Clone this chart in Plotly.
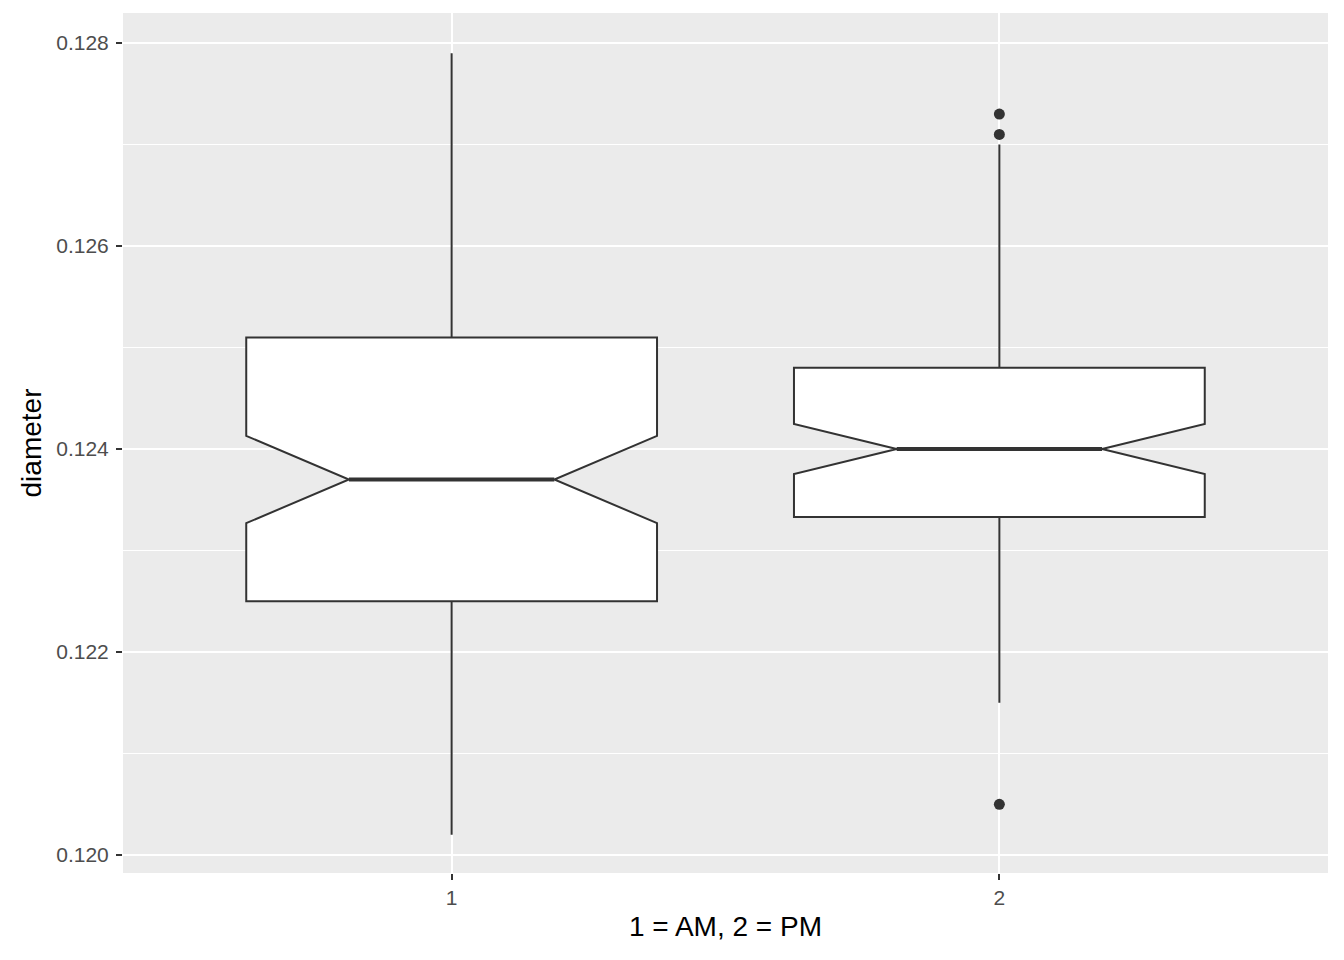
import plotly.graph_objects as go

# summary stats (ggplot notched boxplot)
groups = [1, 2]
tick_labels = ["1", "2"]
q1 = [0.1225, 0.12333]
median = [0.1237, 0.1240]
q3 = [0.1251, 0.1248]
lowerfence = [0.1202, 0.1215]
upperfence = [0.1279, 0.1270]
notchspan = [0.00043, 0.000246]
outlier_x = [2, 2, 2]
outlier_y = [0.1273, 0.1271, 0.1205]

BOX_W = 0.75
NOTCH = 0.25  # plotly: inset on each side, as a fraction of box width
INK = "#333333"

fig = go.Figure()
for i, g in enumerate(groups):
    fig.add_trace(go.Box(
        x=[g],
        q1=[q1[i]], median=[median[i]], q3=[q3[i]],
        lowerfence=[lowerfence[i]], upperfence=[upperfence[i]],
        notchspan=[notchspan[i]],
        notched=True, notchwidth=NOTCH,
        width=BOX_W, whiskerwidth=0,
        fillcolor="white",
        line=dict(color=INK, width=2),
        boxpoints=False,
        hoverinfo="skip",
    ))
    # thicker median segment, like ggplot's fatten
    half = BOX_W / 2 * (1 - 2 * NOTCH)
    fig.add_trace(go.Scatter(
        x=[g - half, g + half], y=[median[i], median[i]],
        mode="lines", line=dict(color=INK, width=4),
        hoverinfo="skip",
    ))

fig.add_trace(go.Scatter(
    x=outlier_x, y=outlier_y, mode="markers",
    marker=dict(color=INK, size=11),
))

fig.update_layout(
    width=1344, height=960,
    margin=dict(l=123, r=16, t=13, b=87),
    plot_bgcolor="#EBEBEB",
    paper_bgcolor="white",
    showlegend=False,
    font=dict(family="Liberation Sans, Arial, sans-serif", size=21, color="#4D4D4D"),
)
fig.update_xaxes(
    range=[0.4, 2.6],
    tickvals=groups, ticktext=tick_labels,
    showgrid=True, gridcolor="white", gridwidth=2.2,
    zeroline=False,
    ticks="outside", ticklen=6, tickwidth=2, tickcolor=INK,
    title=dict(text="1 = AM, 2 = PM", font=dict(size=28, color="black"), standoff=8),
)
fig.update_yaxes(
    range=[0.119823, 0.128296],
    tickvals=[0.120, 0.122, 0.124, 0.126, 0.128],
    tickformat=".3f",
    showgrid=True, gridcolor="white", gridwidth=2.2,
    minor=dict(tickvals=[0.121, 0.123, 0.125, 0.127], showgrid=True,
               gridcolor="white", gridwidth=1.1, ticks=""),
    zeroline=False,
    ticks="outside", ticklen=6, tickwidth=2, tickcolor=INK,
    ticklabelstandoff=3,
    title=dict(text="diameter", font=dict(size=28, color="black"), standoff=6),
)

fig.write_html("out.html", config={"displayModeBar": False},
               post_script="document.body.style.margin='0';")
